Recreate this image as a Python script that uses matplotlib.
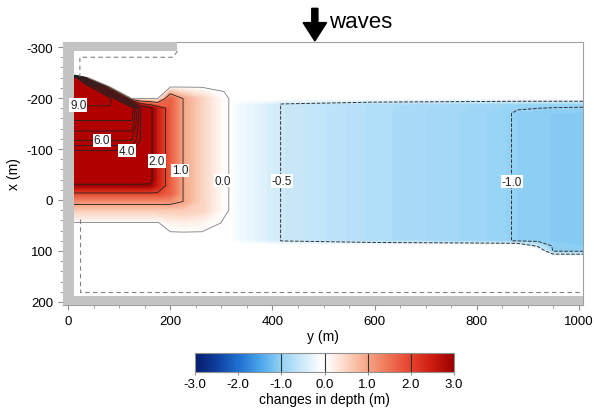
import numpy as np
import matplotlib
matplotlib.use('Agg')
import matplotlib.pyplot as plt
import matplotlib.cm as cm
from matplotlib.colors import LinearSegmentedColormap, Normalize

plt.rcParams['font.family'] = ['Liberation Sans', 'DejaVu Sans']
plt.rcParams['axes.unicode_minus'] = False

B = 0.0  # no change (background)

# accretion block near the structure (y along shore, x cross-shore), depth change in m
red_y = [-10, 14, 39, 82, 125, 143, 160, 175, 200, 225, 262, 305, 321]
red_x = [-310, -245, -240, -222, -199, -180, -150, -117, -97, -60, -40, -28, -13, 3, 20, 45, 65, 206]
red_dz = [
    [B, B, B, B, B, B, B, B, B, B, B, B, B],
    [B, B, B, B, B, B, B, B, B, B, B, B, B],
    [9.8, 9.8, B, B, B, B, B, B, B, B, B, B, B],
    [10, 10, 10, B, B, B, B, B, B, B, B, B, B],
    [9.6, 9.6, 9.6, 9.6, B, B, B, B, 1.7, 1.0, 0.5, 0.05, B],
    [8.8, 8.8, 8.8, 8.8, 8.8, 3.8, 3.2, 2.5, 1.7, 1.0, 0.5, 0.05, B],
    [7.8, 7.8, 7.8, 7.8, 7.8, 3.8, 3.2, 2.5, 1.7, 1.0, 0.5, 0.05, B],
    [6.0, 6.0, 6.0, 6.0, 6.0, 3.8, 3.2, 2.5, 1.7, 1.0, 0.5, 0.05, B],
    [4.0, 4.0, 4.0, 4.0, 4.0, 3.8, 3.2, 2.5, 1.7, 1.0, 0.5, 0.05, B],
    [3.6, 3.6, 3.6, 3.6, 3.6, 3.6, 3.2, 2.5, 1.7, 1.0, 0.5, 0.05, B],
    [3.3, 3.3, 3.3, 3.3, 3.3, 3.3, 3.2, 2.5, 1.7, 1.0, 0.5, 0.05, B],
    [2.9, 2.9, 2.9, 2.9, 2.9, 2.9, 2.9, 2.5, 1.7, 1.0, 0.5, 0.05, B],
    [1.95, 1.95, 1.95, 1.95, 1.95, 1.95, 1.95, 1.95, 1.7, 1.0, 0.5, 0.05, B],
    [1.2, 1.2, 1.2, 1.2, 1.2, 1.2, 1.2, 1.2, 1.2, 1.0, 0.5, 0.05, B],
    [0.6, 0.6, 0.6, 0.6, 0.6, 0.6, 0.6, 0.6, 0.6, 0.6, 0.5, 0.05, B],
    [B, B, B, B, B, B, B, B, 0.15, 0.2, 0.15, B, B],
    [B, B, B, B, B, B, B, B, B, B, B, B, B],
    [B, B, B, B, B, B, B, B, B, B, B, B, B],
]

# erosion block down-drift
blue_y = [321, 340, 400, 420, 600, 800, 860, 880, 920, 950, 1008]
blue_x = [-310, -200, -188, -170, -100, 0, 70, 80, 90, 100, 112, 206]
blue_row = [-0.08, -0.2, -0.42, -0.52, -0.75, -0.9, -0.98, -1.03, -1.06, -1.08, -1.1]
blue_top = [-0.08, -0.2, -0.42, -0.52, -0.75, -0.88, -0.93, -0.95, -0.95, -0.95, -0.95]
blue_dz = [
    [B] * 11,
    [B] * 11,
    blue_top,
    blue_row,
    blue_row,
    blue_row,
    blue_row,
    blue_row,
    [B, B, B, B, B, B, B, B, -0.6, -1.05, -1.08],
    [B, B, B, B, B, B, B, B, B, -1.04, -1.06],
    [B] * 11,
    [B] * 11,
]

# structure / model boundary
land_left = (-10, 12)
land_top = (-310, -292, 214)
land_bottom = (188, 206)
edge1_y = [214, 205, 23, 23]
edge1_x = [-292, -280, -280, -242]
edge2_y = [23, 23, 1008]
edge2_x = [38, 181, 181]

line_levels = [0.02, 1, 2, 3, 4, 5, 6, 7, 8, 9]  # first one is the zero-change line
neg_levels = [-1.0, -0.5]
label_levels = [9.0, 6.0, 4.0, 2.0, 1.0, 0.0, -0.5, -1.0]
label_y = [20, 66, 115, 174, 219, 303, 419, 869]
label_x = [-186, -117, -97, -77, -58, -38, -37, -36]
cbar_ticks = [-3, -2, -1, 0, 1, 2, 3]
cbar_lines = [-1, 0, 1, 2]

cmap = LinearSegmentedColormap.from_list('dz', [
    (0.0, '#071b6c'), (1/12, '#0e3f9e'), (2/12, '#1f6fd0'), (3/12, '#4aa5ea'),
    (4/12, '#93d2f5'), (5/12, '#cdeafa'), (0.49, '#ffffff'), (0.505, '#ffffff'),
    (7/12, '#fcd5c2'),
    (8/12, '#f6a586'), (9/12, '#ef7355'), (10/12, '#e5432b'), (11/12, '#cc1c10'),
    (1.0, '#9a0000')])
cmap.set_over('#b00000')
cmap.set_under('#071b6c')
fill_levels = np.linspace(-3, 3, 121) + 0.025

fig = plt.figure(figsize=(5.94, 4.14), dpi=100)
ax = fig.add_axes([0.1061, 0.2609, 0.8754, 0.6353])

ax.contourf(red_y, red_x, red_dz, levels=fill_levels, cmap=cmap, vmin=-3, vmax=3,
            extend='both', zorder=1)
ax.contourf(blue_y, blue_x, blue_dz, levels=fill_levels, cmap=cmap, vmin=-3, vmax=3,
            extend='both', zorder=1)

ax.contour(red_y, red_x, red_dz, levels=line_levels,
           colors=['#808080'] + ['#222222'] * 9, linewidths=0.6, zorder=2)
ax.contour(blue_y, blue_x, blue_dz, levels=neg_levels, colors='#333333',
           linewidths=0.7, linestyles='--', zorder=2)

ax.plot(edge1_y, edge1_x, color='#808080', lw=0.8, ls=(0, (4, 3)), zorder=2.5)
ax.plot(edge2_y, edge2_x, color='#808080', lw=0.8, ls=(0, (4, 3)), zorder=2.5)

gray = '#c4c4c4'
ax.axvspan(*land_left, color=gray, lw=0, zorder=3)
ax.fill_between([land_left[0], land_top[2]], land_top[0], land_top[1], color=gray, lw=0, zorder=3)
ax.axhspan(*land_bottom, color=gray, lw=0, zorder=3)

for lv, ly, lx in zip(label_levels, label_y, label_x):
    ax.text(ly, lx, '%.1f' % lv, fontsize=8.5, color='#222222', ha='center', va='center',
            zorder=6, bbox=dict(facecolor='white', edgecolor='none', pad=0.6))

ax.set_xlim(-10, 1008)
ax.set_ylim(206, -310)
ax.set_xticks(np.arange(0, 1001, 200))
ax.set_xticks(np.arange(0, 1001, 50), minor=True)
ax.set_yticks(np.arange(-300, 201, 100))
ax.set_yticks(np.arange(-300, 201, 20), minor=True)
ax.tick_params(which='both', direction='out', color='#909090', labelsize=9.5)
ax.tick_params(which='major', length=3.5)
ax.tick_params(which='minor', length=2)
for s in ax.spines.values():
    s.set_color('#a0a0a0')
    s.set_linewidth(0.8)
ax.set_xlabel('y (m)', fontsize=10, labelpad=2)
ax.set_ylabel('x (m)', fontsize=10, labelpad=4)

# incoming waves
ax.arrow(483, -376, 0, 64, width=12, head_width=46, head_length=36,
         length_includes_head=True, color='black', clip_on=False, zorder=7)
ax.text(510, -351, 'waves', fontsize=16, va='center', ha='left', clip_on=False)

cax = fig.add_axes([0.3283, 0.0990, 0.4360, 0.0459])
sm = cm.ScalarMappable(norm=Normalize(-3, 3), cmap=cmap)
cb = fig.colorbar(sm, cax=cax, orientation='horizontal', ticks=cbar_ticks)
cb.ax.set_xticklabels(['%.1f' % v for v in cbar_ticks])
for v in cbar_lines:
    cb.ax.axvline(v, color='#333333', lw=0.8)
cb.outline.set_edgecolor('#909090')
cb.outline.set_linewidth(0.8)
cb.ax.tick_params(direction='out', length=2.5, color='#909090', labelsize=9.5, pad=2)
cb.set_label('changes in depth (m)', fontsize=10, labelpad=1)

fig.savefig('out.png', dpi=100)
